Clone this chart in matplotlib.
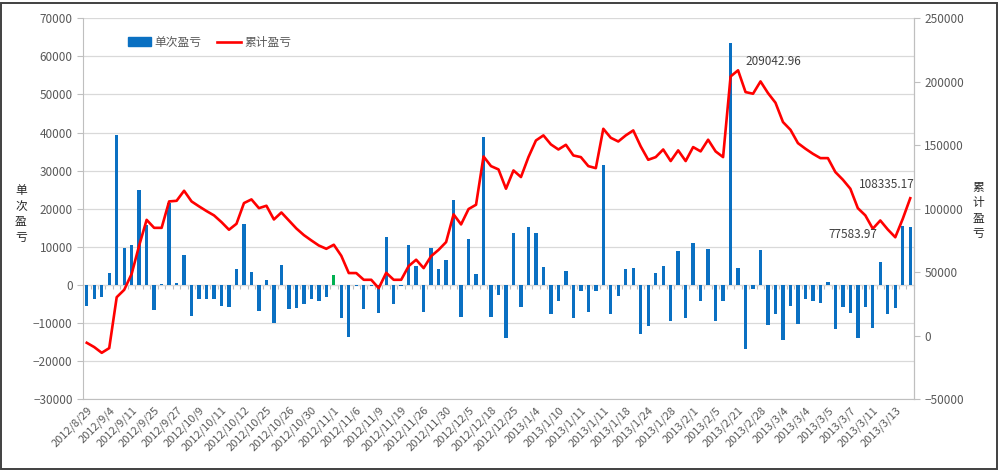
import matplotlib
matplotlib.use("Agg")
import matplotlib.pyplot as plt
import numpy as np
from matplotlib.patches import Rectangle, Patch
from matplotlib.lines import Line2D

plt.rcParams['font.family'] = ['Noto Sans CJK SC', 'DejaVu Sans']

# single trade profit/loss (left axis)
single_pnl = [-5500, -3800, -3100, 3200, 39500, 9800, 10500, 25000, 15800, -6600,
              200, 21500, 400, 7800, -8200, -3600, -3600, -3800, -5500, -5900,
              4100, 16000, 3300, -6800, 1200, -10100, 5200, -6200, -6100, -5000,
              -3800, -4100, -3200, 2500, -8600, -13600, -300, -6200, -300, -7300,
              12700, -5100, -300, 10500, 5100, -7100, 9800, 4100, 6600, 22400,
              -8300, 12100, 2900, 38800, -8300, -2600, -14000, 13600, -5700, 15200,
              13600, 4600, -7700, -4100, 3800, -8600, -1500, -7200, -1500, 31400,
              -7500, -2800, 4300, 4400, -12900, -10800, 3100, 5000, -9500, 9000,
              -8600, 11100, -4200, 9500, -9400, -4200, 63600, 4400, -16700, -1000,
              9200, -10500, -7500, -14500, -5400, -10200, -3700, -4200, -4800, 700,
              -11600, -5700, -7300, -14000, -5900, -11200, 6100, -7600, -6100, 15500,
              15200]

# cumulative profit/loss (right axis)
cum_pnl = [-5500, -8900, -13400, -9700, 30400, 36200, 48800, 71100, 91300, 85000,
           85000, 105800, 106300, 114200, 105800, 101900, 98200, 94800, 89500, 83500,
           88200, 104500, 107400, 100500, 102400, 91600, 97100, 90800, 84500, 79300,
           75100, 71100, 68500, 71700, 63000, 49400, 49400, 44100, 44100, 37500,
           49600, 44100, 44100, 54900, 59900, 53300, 62700, 67700, 73800, 95600,
           87700, 99800, 103200, 141200, 133600, 131000, 115800, 130200, 125000, 140700,
           153800, 157800, 150700, 146700, 150400, 142000, 140700, 133600, 132000, 163000,
           155900, 153000, 157800, 161700, 149100, 138600, 140700, 146700, 137600, 146000,
           137600, 148600, 145200, 154400, 145200, 140700, 204200, 209042.96, 191900, 190600,
           200300, 191100, 183500, 168300, 162200, 151700, 147300, 143300, 139900, 139900,
           128900, 122900, 115800, 100500, 94800, 84300, 90800, 83700, 77583.97, 92100,
           108335.17]

# every third category carries a label
date_labels = ['2012/8/29', '2012/9/4', '2012/9/11', '2012/9/25', '2012/9/27', '2012/10/9',
               '2012/10/11', '2012/10/12', '2012/10/25', '2012/10/26', '2012/10/30', '2012/11/1',
               '2012/11/6', '2012/11/9', '2012/11/19', '2012/11/26', '2012/11/30', '2012/12/5',
               '2012/12/18', '2012/12/25', '2013/1/4', '2013/1/10', '2013/1/11', '2013/1/11',
               '2013/1/18', '2013/1/24', '2013/1/28', '2013/2/1', '2013/2/5', '2013/2/21',
               '2013/2/28', '2013/3/4', '2013/3/4', '2013/3/5', '2013/3/7', '2013/3/11',
               '2013/3/13']
label_step = 3
green_idx = 33
labelled_points = [87, 110, 108]

txt = '#595959'
grid_c = '#d9d9d9'
axis_c = '#bfbfbf'
blue = '#0a70c2'

n = len(single_pnl)
x = np.arange(n)

fig = plt.figure(figsize=(9.99, 4.74), dpi=100)
ax = fig.add_axes([0.0831, 0.1576, 0.8318, 0.8038])

colors = [blue] * n
colors[green_idx] = '#00b050'
ax.bar(x, single_pnl, width=0.45, color=colors, zorder=2)

ax.set_xlim(-0.5, n - 0.5)
ax.set_ylim(-30000, 70000)
ax.set_yticks(np.arange(-30000, 70001, 10000))
ax.grid(axis='y', color=grid_c, lw=0.9, zorder=0)
ax.set_axisbelow(True)
ax.tick_params(axis='y', colors=txt, labelsize=8.5, length=4, color=axis_c)
ax.set_xticks(x[::label_step])
ax.set_xticklabels(date_labels, rotation=45, ha='right', rotation_mode='anchor',
                   fontsize=8, color=txt)
ax.tick_params(axis='x', length=0, pad=4)
ax.spines['top'].set_visible(False)
for s in ['left', 'bottom', 'right']:
    ax.spines[s].set_color(axis_c)

# category axis crossing at zero with tick marks between categories
zero_frac = 30000 / 100000
sec = ax.secondary_xaxis(zero_frac)
sec.set_xticks(np.arange(-0.5, n, 1))
sec.tick_params(axis='x', length=3, direction='out', color=axis_c, labelbottom=False,
                labeltop=False, top=False, bottom=True)
sec.spines['bottom'].set_color(axis_c)
sec.spines['top'].set_visible(False)

ax2 = ax.twinx()
ax2.plot(x, cum_pnl, color='#ff0000', lw=1.9, zorder=3)
ax2.set_ylim(-50000, 250000)
ax2.set_yticks(np.arange(-50000, 250001, 50000))
ax2.tick_params(axis='y', colors=txt, labelsize=8.5, length=4, color=axis_c)
for s in ['top', 'left', 'bottom']:
    ax2.spines[s].set_visible(False)
ax2.spines['right'].set_color(axis_c)

offsets = {87: (5, 6, 'left'), 110: (-17, 10, 'center'), 108: (-13, 2, 'right')}
for i in labelled_points:
    dx, dy, ha = offsets[i]
    ax2.annotate(f'{cum_pnl[i]:.2f}', (x[i], cum_pnl[i]), xytext=(dx, dy),
                 textcoords='offset points', ha=ha, va='center', fontsize=8.5, color='#404040')

# stacked axis titles
fig.text(0.021, 0.548, '单\n次\n盈\n亏', ha='center', va='center', fontsize=8.5,
         color='#262626', linespacing=1.25)
fig.text(0.979, 0.556, '累\n计\n盈\n亏', ha='center', va='center', fontsize=8.5,
         color='#262626', linespacing=1.25)

handles = [Patch(color=blue), Line2D([0], [0], color='#ff0000', lw=1.9)]
fig.legend(handles, ['单次盈亏', '累计盈亏'], loc='center left',
           bbox_to_anchor=(0.117, 0.911), ncol=2, frameon=False, fontsize=8.5,
           handlelength=2.0, columnspacing=1.3, handletextpad=0.3,
           labelcolor=txt)

# outer frame of the picture
fig.add_artist(Rectangle((0.001, 1 - 469 / 474), 0.997, (469 - 3) / 474,
                         transform=fig.transFigure, fill=False, edgecolor='#404040', lw=1.4))

fig.savefig('out.png', dpi=100)
